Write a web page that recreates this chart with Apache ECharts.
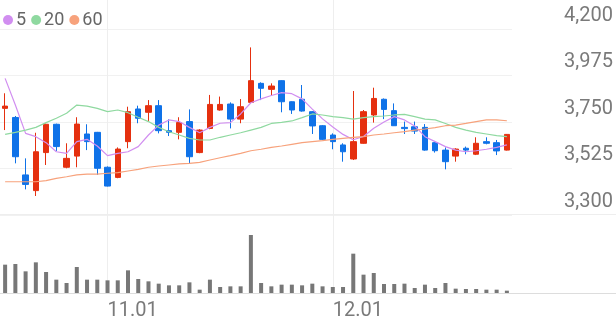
<!DOCTYPE html>
<html>
<head>
<meta charset="utf-8">
<script src="https://cdn.jsdelivr.net/npm/echarts@6/dist/echarts.min.js"></script>
<style>
html,body{margin:0;padding:0;background:#fff;}
#chart{width:616px;height:321px;}
</style>
</head>
<body>
<div id="chart"></div>
<script>
const dates = ['10.18','10.19','10.20','10.23','10.24','10.25','10.26','10.27','10.30','10.31',
  '11.01','11.02','11.03','11.06','11.07','11.08','11.09','11.10','11.13','11.14',
  '11.15','11.16','11.17','11.20','11.21','11.22','11.23','11.24','11.27','11.28',
  '11.29','11.30','12.01','12.04','12.05','12.06','12.07','12.08','12.11','12.12',
  '12.13','12.14','12.15','12.18','12.19','12.20','12.21','12.22','12.26','12.27'];
const openP = [3816,3772,3494,3418,3602,3739,3531,3585,3692,3700,
  3531,3482,3655,3813,3797,3829,3708,3700,3752,3602,
  3719,3808,3837,3764,3845,3937,3908,3950,3848,3860,
  3800,3732,3687,3639,3571,3647,3784,3860,3805,3724,
  3727,3724,3650,3614,3585,3623,3594,3655,3650,3614];
const closeP = [3827,3582,3448,3606,3739,3631,3574,3740,3655,3526,
  3440,3619,3800,3768,3829,3708,3700,3747,3582,3711,
  3835,3835,3764,3824,3950,3913,3924,3848,3808,3803,
  3731,3666,3655,3606,3655,3800,3864,3811,3732,3718,
  3706,3614,3611,3558,3619,3614,3647,3647,3610,3690];
const lowP = [3711,3550,3424,3392,3542,3610,3526,3531,3614,3494,
  3438,3478,3623,3744,3755,3695,3682,3666,3550,3599,
  3715,3805,3719,3744,3840,3856,3876,3797,3789,3800,
  3692,3663,3618,3558,3566,3645,3747,3764,3731,3692,
  3692,3611,3602,3521,3558,3594,3590,3642,3590,3612];
const highP = [3889,3779,3574,3698,3742,3742,3647,3773,3739,3702,
  3535,3627,3824,3829,3856,3856,3763,3773,3811,3715,
  3881,3873,3845,3861,4111,3942,3937,3952,3850,3929,
  3803,3735,3695,3647,3900,3808,3916,3864,3840,3752,
  3752,3740,3652,3627,3623,3631,3676,3676,3663,3692];
const ma5 = [3961,3832,3695,3679,3650,3606,3598,3655,3666,3634,
  3587,3598,3606,3631,3687,3735,3760,3752,3724,3698,
  3724,3744,3747,3789,3843,3862,3878,3892,3887,3862,
  3812,3765,3726,3690,3664,3680,3720,3750,3776,3760,
  3731,3679,3655,3631,3614,3606,3611,3618,3627,3639];
const ma20 = [3690,3700,3711,3724,3747,3768,3792,3832,3827,3816,
  3800,3808,3795,3773,3752,3724,3703,3687,3671,3663,
  3663,3676,3687,3698,3711,3724,3743,3748,3755,3771,
  3789,3784,3776,3771,3764,3771,3776,3779,3784,3787,
  3776,3764,3760,3743,3724,3711,3700,3692,3684,3679];
const ma60 = [3461,3461,3461,3461,3466,3477,3485,3494,3498,3498,
  3502,3505,3513,3521,3531,3537,3542,3547,3550,3555,
  3566,3577,3587,3598,3611,3618,3627,3634,3642,3650,
  3655,3660,3666,3671,3676,3679,3687,3692,3698,3703,
  3711,3716,3723,3732,3735,3743,3752,3760,3760,3756];
const volume = [850,870,650,920,630,400,300,780,400,400,
  380,380,680,420,350,280,230,230,320,100,
  400,180,200,200,1740,300,200,250,250,230,
  280,200,180,180,1180,550,600,270,270,280,
  150,250,150,300,130,120,120,100,100,70];
const yTicks = {min: 3300, max: 4200, step: 225};
const legendNames = ['5', '20', '60'];
const shownDates = ['11.01', '12.01'];

const candleData = dates.map((d, i) => [openP[i], closeP[i], lowP[i], highP[i]]);
const showDate = (i, v) => shownDates.indexOf(dates[i]) >= 0;
const FONT = 'Roboto';

const chart = echarts.init(document.getElementById('chart'), null, {renderer: 'canvas'});
chart.setOption({
  animation: false,
  backgroundColor: '#ffffff',
  legend: {
    data: legendNames, left: -2, top: 6, icon: 'circle',
    itemWidth: 10, itemHeight: 10, itemGap: 5,
    textStyle: {fontFamily: FONT, fontSize: 18, color: '#666', padding: [0, 0, 0, -2]}
  },
  grid: [
    {left: 0, width: 512, top: 29, height: 186},
    {left: 0, width: 512, top: 215, height: 78},
    {left: 0, width: 512, top: 0, height: 293}
  ],
  xAxis: [
    {type: 'category', data: dates, gridIndex: 0, axisLine: {show: false}, axisTick: {show: false},
     axisLabel: {show: false}, splitLine: {show: false}},
    {type: 'category', data: dates, gridIndex: 1, axisLine: {show: false}, axisTick: {show: false},
     axisLabel: {interval: showDate, align: 'left', margin: 8, fontSize: 20, color: '#7a7a7a', fontFamily: FONT},
     splitLine: {show: false}},
    {type: 'category', data: dates, gridIndex: 2, axisLine: {show: false}, axisTick: {show: false},
     axisLabel: {show: false},
     splitLine: {show: true, interval: showDate, alignWithLabel: true, lineStyle: {color: '#eeeeee', width: 1}}}
  ],
  yAxis: [
    {type: 'value', gridIndex: 0, position: 'right', min: yTicks.min, max: yTicks.max, interval: yTicks.step,
     axisLine: {show: false}, axisTick: {show: false},
     splitLine: {lineStyle: {color: '#f1f1f1', width: 1}},
     axisLabel: {align: 'right', margin: 101, fontSize: 20, color: '#7a7a7a', fontFamily: FONT,
       verticalAlign: 'bottom', lineHeight: 27,
       formatter: v => v.toLocaleString('en-US')}},
    {type: 'value', gridIndex: 1, min: 0, max: 2340, show: false, splitLine: {show: false}},
    {type: 'value', gridIndex: 2, min: 0, max: 1, show: false, splitLine: {show: false}}
  ],
  graphic: [
    {type: 'line', shape: {x1: 0, y1: 214.5, x2: 616, y2: 214.5}, style: {stroke: '#eeeeee', lineWidth: 1}, z: 0},
    {type: 'line', shape: {x1: 0, y1: 293.5, x2: 616, y2: 293.5}, style: {stroke: '#dddddd', lineWidth: 1}, z: 0}
  ],
  series: [
    {type: 'candlestick', xAxisIndex: 0, yAxisIndex: 0, data: candleData, barWidth: 6,
     itemStyle: {color: '#e5300f', color0: '#0f72e8', borderColor: '#e5300f', borderColor0: '#0f72e8', borderWidth: 1}},
    {name: legendNames[0], type: 'line', xAxisIndex: 0, yAxisIndex: 0, data: ma5, symbol: 'none',
     color: '#d18ef0', lineStyle: {width: 1.2, color: '#d18ef0'}},
    {name: legendNames[1], type: 'line', xAxisIndex: 0, yAxisIndex: 0, data: ma20, symbol: 'none',
     color: '#8fd9a0', lineStyle: {width: 1.2, color: '#8fd9a0'}},
    {name: legendNames[2], type: 'line', xAxisIndex: 0, yAxisIndex: 0, data: ma60, symbol: 'none',
     color: '#f7a27c', lineStyle: {width: 1.2, color: '#f7a27c'}},
    {type: 'bar', xAxisIndex: 1, yAxisIndex: 1, data: volume, barWidth: 4, itemStyle: {color: '#777777'}}
  ]
});
</script>
</body>
</html>
